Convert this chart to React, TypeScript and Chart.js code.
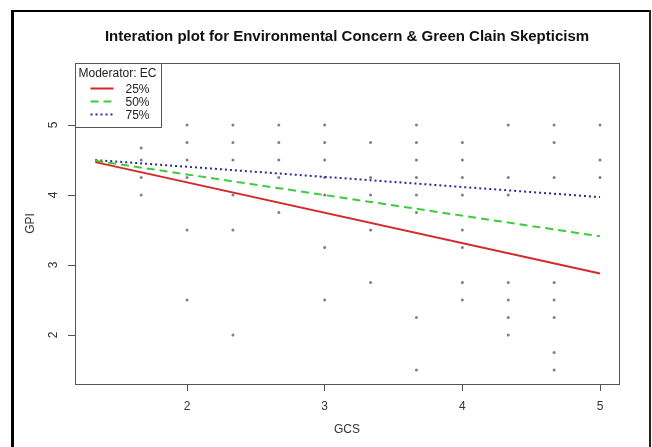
import React, { useEffect, useRef } from 'react';
import { Chart, registerables } from 'chart.js';

Chart.register(...registerables);

const chartTitle = 'Interation plot for Environmental Concern & Green Clain Skepticism';
const xAxisLabel = 'GCS';
const yAxisLabel = 'GPI';
const legendTitle = 'Moderator: EC';

const xTicks = [2, 3, 4, 5];
const yTicks = [2, 3, 4, 5];
const xLimits = [1.186, 5.138];
const yLimits = [1.3, 5.886];

// observed GCS levels and the GPI values seen at each level
const gcsLevels = [5 / 3, 2, 7 / 3, 8 / 3, 3, 10 / 3, 11 / 3, 4, 13 / 3, 14 / 3, 5];
const gpiAtLevel = [
  [4.67, 4.5, 4.25, 4.0],
  [5, 4.75, 4.5, 4.25, 3.5, 2.5],
  [5, 4.75, 4.5, 4.0, 3.5, 2.0],
  [5, 4.75, 4.5, 4.25, 3.75],
  [5, 4.75, 4.5, 4.25, 4.0, 3.25, 2.5],
  [4.75, 4.25, 4.0, 3.5, 2.75],
  [5, 4.75, 4.5, 4.25, 4.0, 3.75, 2.25, 1.5],
  [4.75, 4.5, 4.25, 4.0, 3.5, 3.25, 2.75, 2.5],
  [5, 4.25, 4.0, 2.75, 2.5, 2.25, 2.0],
  [5, 4.75, 4.25, 2.75, 2.5, 2.25, 1.75, 1.5],
  [5, 4.5, 4.25],
];

// fitted lines
const lineGCS = [4 / 3, 5];
const gpi25 = [4.47, 2.88];
const gpi50 = [4.49, 3.41];
const gpi75 = [4.5, 3.97];
const seriesLabels = ['25%', '50%', '75%'];

const FONT = '"Liberation Sans", Arial, Helvetica, sans-serif';

const decorPlugin = {
  id: 'decor',
  beforeDraw(chart: any) {
    const ctx = chart.ctx;
    const w = chart.width;
    const h = chart.height;
    ctx.save();
    ctx.fillStyle = '#ffffff';
    ctx.fillRect(0, 0, w, h);
    ctx.fillStyle = '#000000';
    ctx.fillRect(11, 10, 3, h - 10);
    ctx.fillRect(11, 10, w - 12, 2);
    ctx.fillStyle = '#222222';
    ctx.fillRect(w - 3, 10, 2, h - 10);
    ctx.restore();
  },
  afterDraw(chart: any) {
    const { ctx, chartArea: ca, scales } = chart;
    ctx.save();
    // plot box
    ctx.strokeStyle = '#555555';
    ctx.lineWidth = 1;
    ctx.strokeRect(Math.round(ca.left) + 0.5, Math.round(ca.top) + 0.5, Math.round(ca.right - ca.left), Math.round(ca.bottom - ca.top));

    // title
    ctx.fillStyle = '#111111';
    ctx.font = `bold 15px ${FONT}`;
    ctx.textAlign = 'center';
    ctx.textBaseline = 'middle';
    ctx.fillText(chartTitle, (ca.left + ca.right) / 2, 37);

    // y tick labels (rotated, as in R)
    ctx.font = `12px ${FONT}`;
    ctx.fillStyle = '#333333';
    for (const t of scales.y.ticks) {
      const py = scales.y.getPixelForValue(t.value);
      ctx.save();
      ctx.translate(54, py);
      ctx.rotate(-Math.PI / 2);
      ctx.fillText(String(t.value), 0, 0);
      ctx.restore();
    }

    // legend
    const lx = Math.round(ca.left) + 0.5;
    const ly = Math.round(ca.top) + 0.5;
    const lw = 86;
    const lh = 64;
    ctx.fillStyle = '#ffffff';
    ctx.fillRect(lx, ly, lw, lh);
    ctx.strokeStyle = '#555555';
    ctx.lineWidth = 1;
    ctx.strokeRect(lx, ly, lw, lh);
    ctx.fillStyle = '#222222';
    ctx.textAlign = 'left';
    ctx.font = `12px ${FONT}`;
    ctx.fillText(legendTitle, lx + 3, ly + 10);
    const lineSets = chart.data.datasets.filter((d: any) => d.showLine);
    lineSets.forEach((d: any, i: number) => {
      const yy = ly + 25 + i * 13;
      ctx.save();
      ctx.strokeStyle = d.borderColor;
      ctx.lineWidth = d.borderWidth;
      ctx.setLineDash(d.borderDash || []);
      ctx.beginPath();
      ctx.moveTo(lx + 15, yy);
      ctx.lineTo(lx + 38, yy);
      ctx.stroke();
      ctx.restore();
      ctx.fillStyle = '#222222';
      ctx.fillText(d.label, lx + 50, yy + 1);
    });
    ctx.restore();
  },
};

export default function App() {
  const canvasRef = useRef<HTMLCanvasElement | null>(null);

  useEffect(() => {
    if (!canvasRef.current) return;
    const points: { x: number; y: number }[] = [];
    gcsLevels.forEach((x, i) => gpiAtLevel[i].forEach((y) => points.push({ x, y })));
    const mk = (ys: number[]) => lineGCS.map((x, i) => ({ x, y: ys[i] }));

    const chart = new Chart(canvasRef.current, {
      type: 'scatter',
      data: {
        datasets: [
          { label: seriesLabels[0], data: mk(gpi25), showLine: true, borderColor: '#d42a2a', borderWidth: 2, pointRadius: 0, borderDash: [] },
          { label: seriesLabels[1], data: mk(gpi50), showLine: true, borderColor: '#3ccc3c', borderWidth: 2, pointRadius: 0, borderDash: [8, 5] },
          { label: seriesLabels[2], data: mk(gpi75), showLine: true, borderColor: '#2a2a9a', borderWidth: 2, pointRadius: 0, borderDash: [2, 3] },
          { label: 'obs', data: points, showLine: false, pointRadius: 1.5, pointBackgroundColor: '#808080', pointBorderWidth: 0, backgroundColor: '#808080', borderColor: '#808080' },
        ],
      } as any,
      options: {
        responsive: false,
        animation: false,
        layout: { padding: { top: 63, right: 33, left: 0, bottom: 0 } },
        plugins: { legend: { display: false }, title: { display: false }, tooltip: { enabled: false } },
        scales: {
          x: {
            type: 'linear',
            min: xLimits[0],
            max: xLimits[1],
            afterBuildTicks: (s: any) => { s.ticks = xTicks.map((v) => ({ value: v })); },
            afterFit: (s: any) => { s.height = 63; },
            grid: { drawOnChartArea: false, drawTicks: true, tickLength: 7, color: '#555555' },
            border: { display: true, color: '#555555' },
            ticks: { padding: 8, color: '#333333', font: { family: FONT, size: 12 } },
            title: { display: true, text: xAxisLabel, color: '#333333', font: { family: FONT, size: 12 }, padding: { top: 0, bottom: 10 } },
          },
          y: {
            type: 'linear',
            min: yLimits[0],
            max: yLimits[1],
            afterBuildTicks: (s: any) => { s.ticks = yTicks.map((v) => ({ value: v })); },
            afterFit: (s: any) => { s.width = 75; },
            grid: { drawOnChartArea: false, drawTicks: true, tickLength: 7, color: '#555555' },
            border: { display: true, color: '#555555' },
            ticks: { display: false },
            title: { display: true, text: yAxisLabel, color: '#333333', font: { family: FONT, size: 12 }, padding: { top: 23, bottom: 0 } },
          },
        },
      } as any,
      plugins: [decorPlugin],
    });
    return () => chart.destroy();
  }, []);

  return (
    <div style={{ position: 'fixed', left: 0, top: 0, width: 652, height: 447, background: '#ffffff' }}>
      <canvas ref={canvasRef} width={652} height={447} />
    </div>
  );
}
